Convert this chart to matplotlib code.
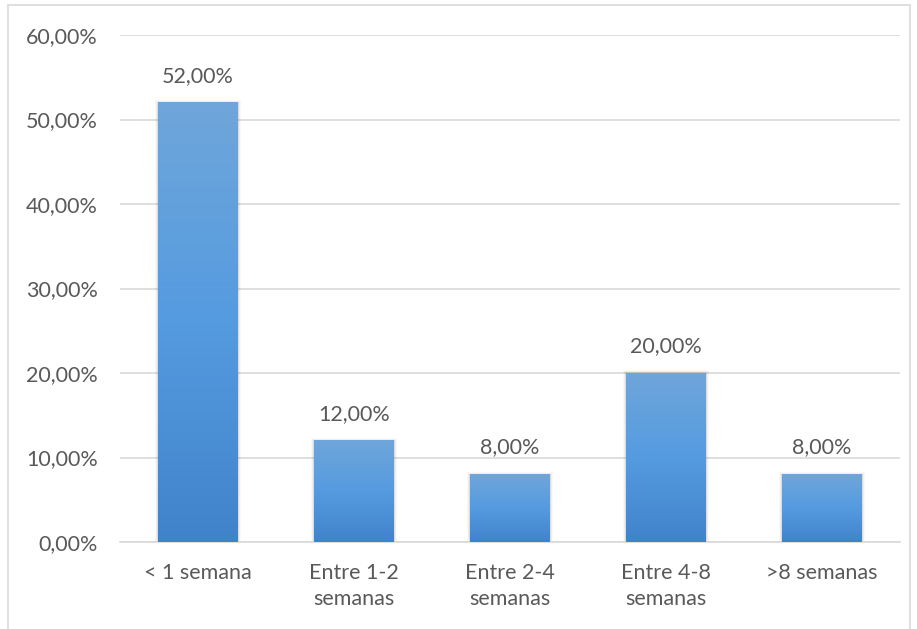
import numpy as np
import matplotlib.pyplot as plt
from matplotlib.patches import Rectangle
from matplotlib.colors import LinearSegmentedColormap

categorias = ["< 1 semana", "Entre 1-2\nsemanas", "Entre 2-4\nsemanas", "Entre 4-8\nsemanas", ">8 semanas"]
valores = [52.0, 12.0, 8.0, 20.0, 8.0]
yticks = [0, 10, 20, 30, 40, 50, 60]

plt.rcParams['font.family'] = ['Lato', 'DejaVu Sans']
texto = '#595959'
fs = 15.5

fig = plt.figure(figsize=(9.17, 6.29), dpi=100)
ax = fig.add_axes([120 / 917, 1 - 542 / 629, 780 / 917, 507 / 629])

# marco del gráfico
fig.patches.append(Rectangle((8 / 917, -0.01), 902 / 917, 1 - 5 / 629 + 0.01,
                             transform=fig.transFigure, fill=False,
                             edgecolor='#d9d9d9', linewidth=1.2))

x = np.arange(len(categorias))
barras = ax.bar(x, valores, width=0.507, color='none', zorder=3)

cmap = LinearSegmentedColormap.from_list('azul', ['#4183cb', '#559be0', '#6fa6da'])
grad = np.linspace(0, 1, 256).reshape(-1, 1)
for b in barras:
    x0, w, h = b.get_x(), b.get_width(), b.get_height()
    # sombra suave
    for i, a in enumerate([0.07, 0.045, 0.025]):
        ax.add_patch(Rectangle((x0 - 0.007 * (i + 1), -0.1), w + 0.014 * (i + 1), h + 0.1 + 0.1 * (i + 1),
                               facecolor='black', alpha=a, edgecolor='none', zorder=2))
    ax.imshow(grad, extent=(x0, x0 + w, 0, h), origin='lower', cmap=cmap,
              aspect='auto', zorder=4)
    ax.text(x0 + w / 2, h + 2.0, f"{h:.2f}%".replace('.', ','), ha='center', va='bottom',
            fontsize=fs, color=texto, zorder=5)

ax.set_xlim(-0.5, len(categorias) - 0.5)
ax.set_ylim(0, 60)
ax.set_yticks(yticks)
ax.set_yticklabels([f"{v:.2f}%".replace('.', ',') for v in yticks], fontsize=fs, color=texto)
ax.set_xticks(x)
ax.set_xticklabels(categorias, fontsize=fs, color=texto, linespacing=1.4)
ax.tick_params(axis='y', length=0, pad=16)
ax.tick_params(axis='x', length=0, pad=15)
ax.grid(axis='y', color='#d9d9d9', linewidth=1.2, zorder=0)
for s in ['top', 'right', 'left']:
    ax.spines[s].set_visible(False)
ax.spines['bottom'].set_color('#d9d9d9')
ax.spines['bottom'].set_linewidth(1.2)

fig.savefig('out.png', dpi=100)
